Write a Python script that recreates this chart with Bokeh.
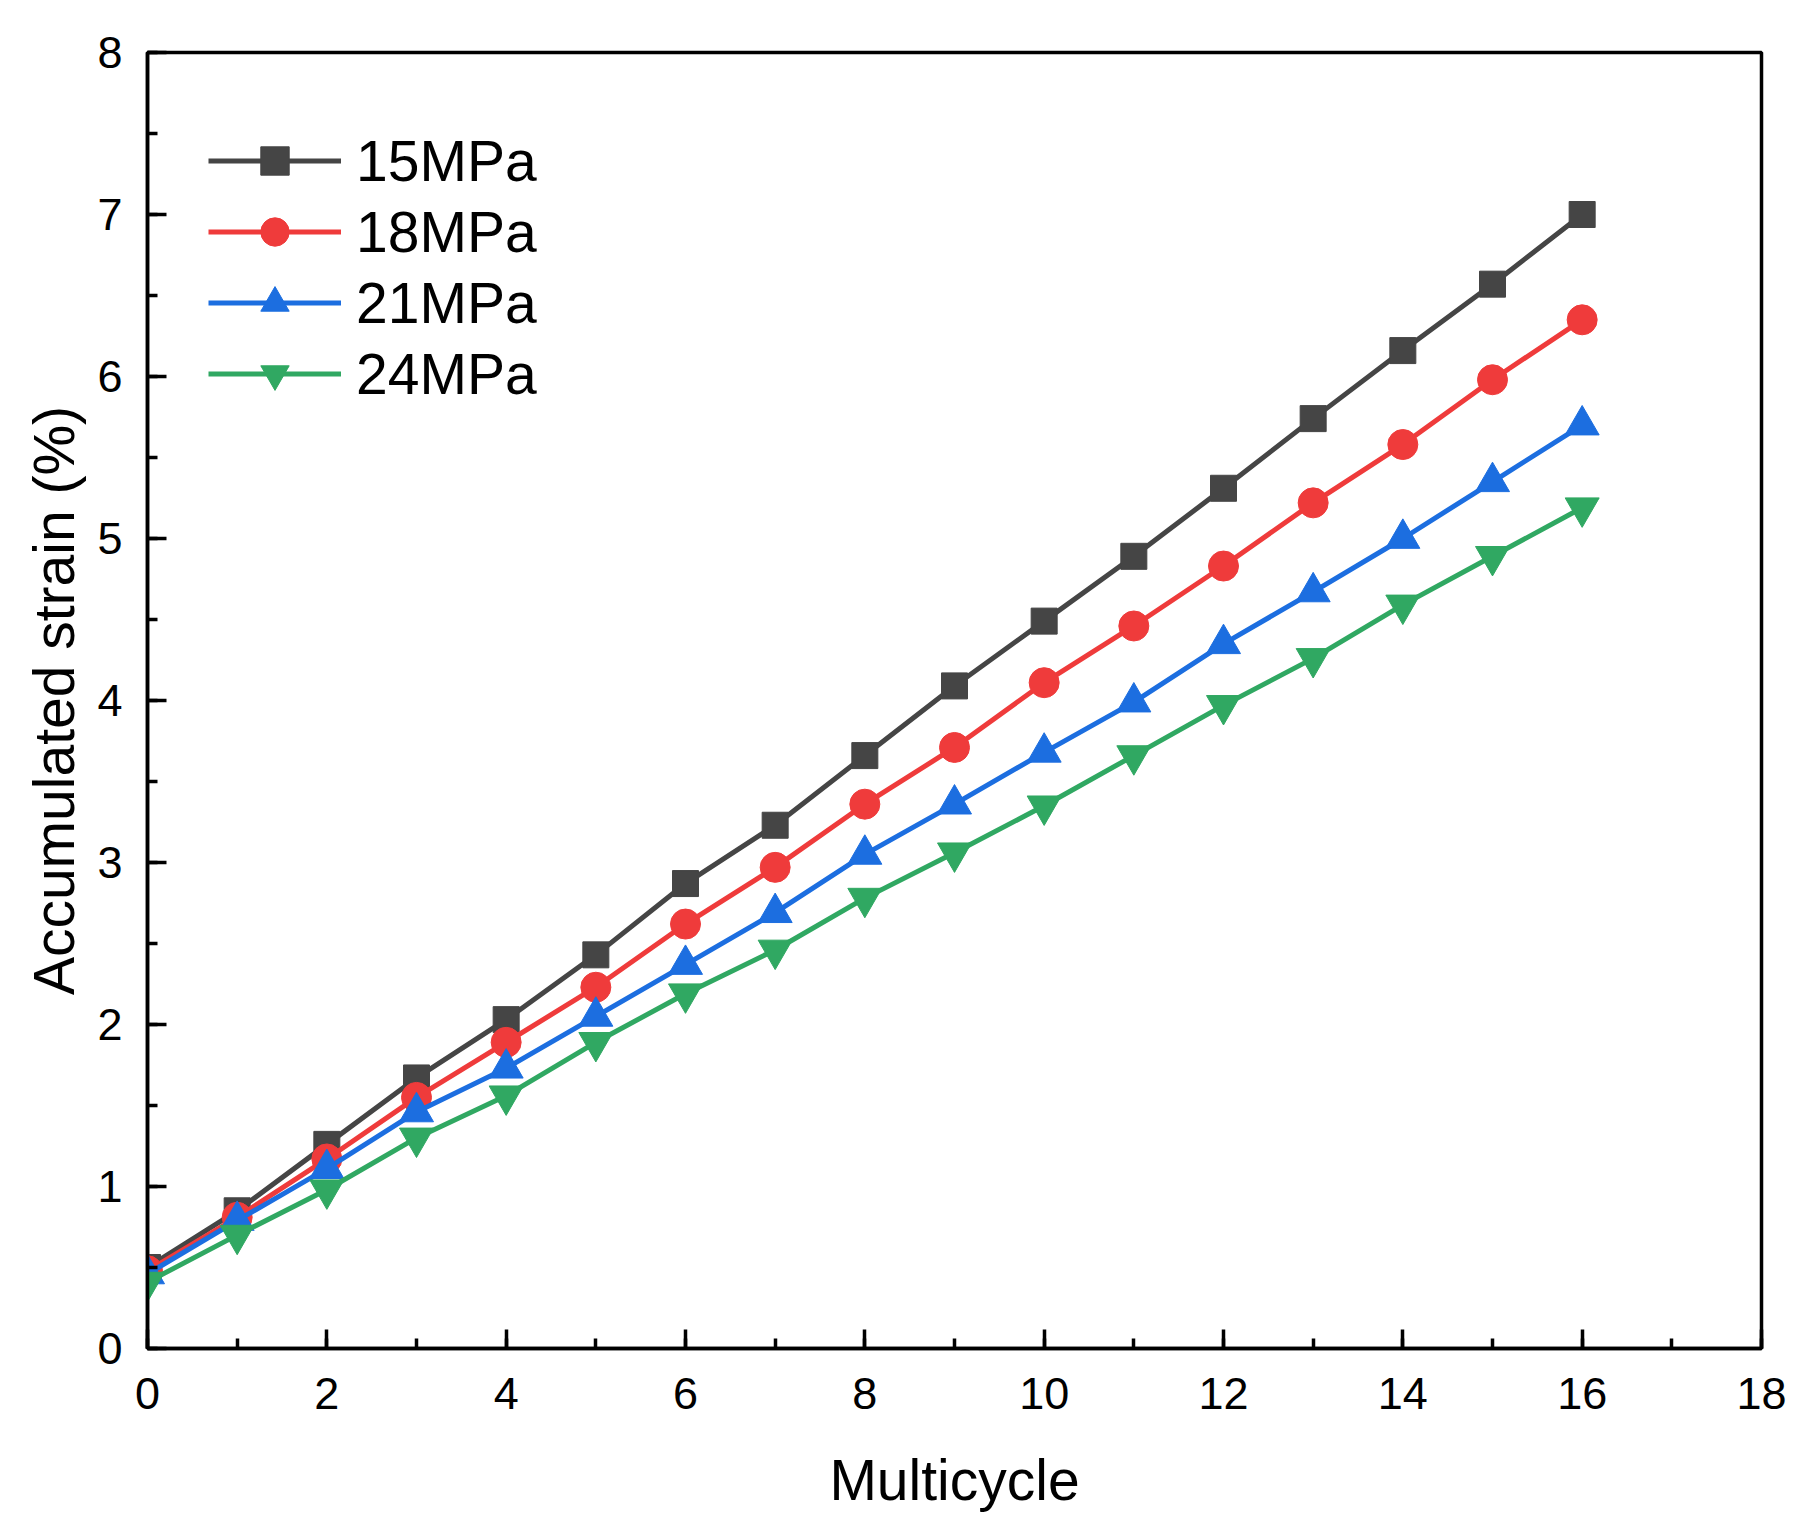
from bokeh.plotting import figure
from bokeh.models import FixedTicker, Range1d
from bokeh.embed import file_html
from bokeh.resources import INLINE

cycles = list(range(17))
strain_15 = [0.50, 0.85, 1.26, 1.67, 2.03, 2.43, 2.87, 3.23, 3.66, 4.09, 4.49, 4.89, 5.31, 5.74, 6.16, 6.57, 7.00]
strain_18 = [0.48, 0.81, 1.17, 1.55, 1.89, 2.23, 2.62, 2.97, 3.36, 3.71, 4.11, 4.46, 4.83, 5.22, 5.58, 5.98, 6.35]
strain_21 = [0.46, 0.79, 1.11, 1.46, 1.73, 2.05, 2.37, 2.69, 3.05, 3.36, 3.68, 3.99, 4.35, 4.67, 5.00, 5.35, 5.70]
strain_24 = [0.41, 0.70, 0.98, 1.30, 1.56, 1.89, 2.19, 2.46, 2.78, 3.06, 3.35, 3.66, 3.97, 4.26, 4.59, 4.89, 5.19]

series = [
    ("15MPa", strain_15, "#454545", "square", 26),
    ("18MPa", strain_18, "#ef3b3b", "circle", 30),
    ("21MPa", strain_21, "#1c6ee0", "triangle", 34),
    ("24MPa", strain_24, "#30a862", "inverted_triangle", 34),
]

FONT = "Liberation Sans"

p = figure(
    width=1795, height=1522,
    x_range=Range1d(0, 18), y_range=Range1d(0, 8),
    output_backend="svg", toolbar_location=None,
    min_border_left=147, min_border_right=34,
    min_border_top=52, min_border_bottom=174,
)

for name, ys, color, marker, size in series:
    p.line(cycles, ys, line_color=color, line_width=5, legend_label=name)
    p.scatter(cycles, ys, marker=marker, size=size, fill_color=color,
              line_color=color, legend_label=name)

p.xgrid.visible = False
p.ygrid.visible = False
p.outline_line_color = "black"
p.outline_line_width = 3.5
p.outline_line_alpha = 1

p.xaxis.ticker = FixedTicker(ticks=list(range(0, 19, 2)), minor_ticks=list(range(0, 19)))
p.yaxis.ticker = FixedTicker(ticks=list(range(0, 9)), minor_ticks=[i * 0.5 for i in range(17)])

for ax in (p.xaxis, p.yaxis):
    ax.axis_line_width = 3.5
    ax.axis_line_color = "black"
    ax.major_tick_in = 19
    ax.major_tick_out = 0
    ax.minor_tick_in = 10
    ax.minor_tick_out = 0
    ax.major_tick_line_width = 3.5
    ax.minor_tick_line_width = 3.5
    ax.major_tick_line_color = "black"
    ax.minor_tick_line_color = "black"
    ax.major_label_text_font = FONT
    ax.major_label_text_font_size = "45px"
    ax.major_label_text_color = "black"
    ax.axis_label_text_font = FONT
    ax.axis_label_text_font_size = "57px"
    ax.axis_label_text_font_style = "normal"
    ax.axis_label_text_color = "black"

p.xaxis.axis_label = "Multicycle"
p.yaxis.axis_label = "Accumulated strain (%)"
p.xaxis.major_label_standoff = 29
p.yaxis.major_label_standoff = 25
p.xaxis.axis_label_standoff = 36
p.yaxis.axis_label_standoff = 8

p.legend.location = (61, 939)
p.legend.border_line_color = None
p.legend.background_fill_alpha = 0
p.legend.label_text_font = FONT
p.legend.label_text_font_size = "57px"
p.legend.label_text_color = "black"
p.legend.glyph_width = 133
p.legend.glyph_height = 71
p.legend.label_height = 71
p.legend.spacing = 0
p.legend.margin = 0
p.legend.padding = 0
p.legend.label_standoff = 15

open("out.html", "w").write(file_html(p, INLINE))
